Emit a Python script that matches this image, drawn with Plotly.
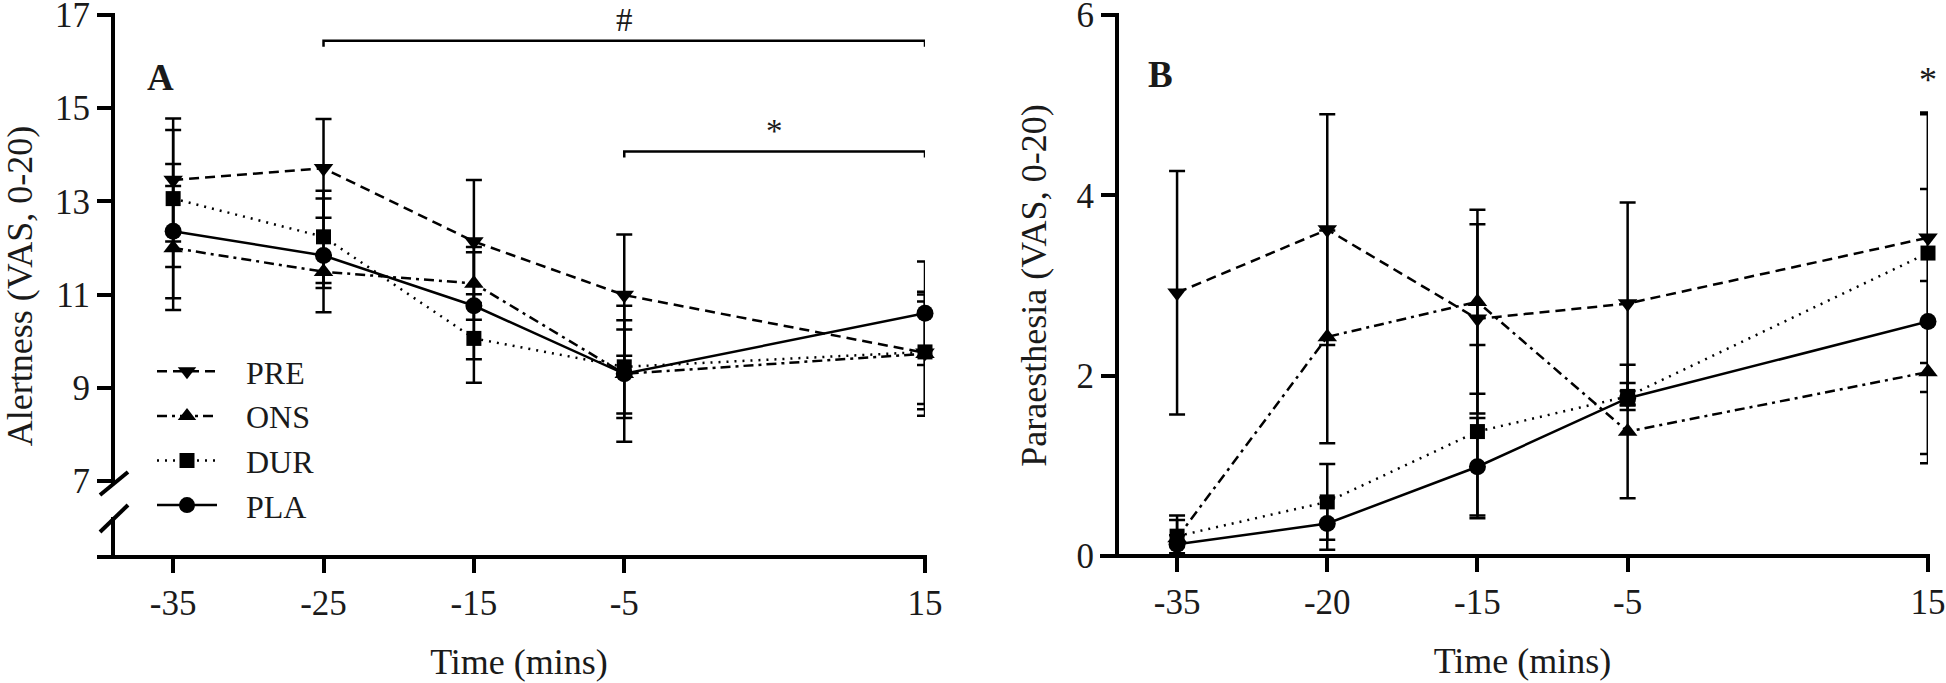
import plotly.graph_objects as go

# ---------------- data ----------------
series_names = ["PRE", "ONS", "DUR", "PLA"]

# Panel A: Alertness (VAS, 0-20)
time_A = [-35, -25, -15, -5, 15]
alert_PRE = [13.46, 13.71, 12.14, 10.99, 9.75]
alert_PRE_sd = [1.32, 1.06, 1.32, 1.30, 1.10]
alert_ONS = [12.00, 11.49, 11.24, 9.30, 9.73]
alert_ONS_sd = [1.33, 0.35, 0.78, 0.95, 1.33]
alert_DUR = [13.06, 12.24, 10.06, 9.45, 9.77]
alert_DUR_sd = [1.47, 0.99, 0.95, 1.00, 1.23]
alert_PLA = [12.36, 11.84, 10.76, 9.30, 10.60]
alert_PLA_sd = [1.44, 1.22, 1.15, 1.46, 1.11]

# Panel B: Paraesthesia (VAS, 0-20)
time_B_labels = ["-35", "-20", "-15", "-5", "15"]
time_B_slots = [-35, -25, -15, -5, 15]   # plotting slots of the time points
para_PRE = [2.92, 3.62, 2.63, 2.80, 3.53]
para_PRE_sd = [1.35, 1.28, 1.05, 1.12, 1.39]
para_ONS = [0.20, 2.43, 2.82, 1.38, 2.04]
para_ONS_sd = [0.20, 1.18, 1.02, 0.74, 1.01]
para_DUR = [0.22, 0.60, 1.38, 1.77, 3.36]
para_DUR_sd = [0.23, 0.42, 0.96, 0.15, 1.54]
para_PLA = [0.13, 0.36, 0.99, 1.75, 2.60]
para_PLA_sd = [0.10, 0.29, 0.54, 0.08, 1.47]

ticks_A_y = [7, 9, 11, 13, 15, 17]
ticks_B_y = [0, 2, 4, 6]

# significance brackets: (x start, x end, y level, label)
sig_A = [(-25, 15, 16.45, "#"), (-5, 15, 14.07, "*")]
sig_B = [(15, 5.28, "*")]

# ---------------- style ----------------
W, H = 1946, 683
FONT = "Liberation Serif"
TXT = "#1a1a1a"
symbols = {"PRE": "triangle-down", "ONS": "triangle-up", "DUR": "square", "PLA": "circle"}
msize = {"PRE": 17, "ONS": 17, "DUR": 15, "PLA": 17}
dashes = {"PRE": "10px,6px", "ONS": "10px,5px,3px,5px", "DUR": "2px,6px", "PLA": "solid"}
NBSP = "\u00a0\u00a0\u00a0"


def fx(px):
    return px / W


def fy(py):
    return 1 - py / H


fig = go.Figure()

A = {"PRE": (alert_PRE, alert_PRE_sd), "ONS": (alert_ONS, alert_ONS_sd),
     "DUR": (alert_DUR, alert_DUR_sd), "PLA": (alert_PLA, alert_PLA_sd)}
B = {"PRE": (para_PRE, para_PRE_sd), "ONS": (para_ONS, para_ONS_sd),
     "DUR": (para_DUR, para_DUR_sd), "PLA": (para_PLA, para_PLA_sd)}

for name in series_names:
    y, sd = A[name]
    fig.add_trace(go.Scatter(
        x=time_A, y=y, name=NBSP + name, mode="lines+markers", xaxis="x", yaxis="y",
        line=dict(color="black", width=2.5, dash=dashes[name]),
        marker=dict(symbol=symbols[name], size=msize[name], color="black"),
        error_y=dict(type="data", array=sd, visible=True, color="black", thickness=2.5, width=8),
        cliponaxis=False, showlegend=True))

for name in series_names:
    y, sd = B[name]
    fig.add_trace(go.Scatter(
        x=time_B_slots, y=y, name=name, mode="lines+markers", xaxis="x2", yaxis="y2",
        line=dict(color="black", width=2.5, dash=dashes[name]),
        marker=dict(symbol=symbols[name], size=msize[name], color="black"),
        error_y=dict(type="data", array=sd, visible=True, color="black", thickness=2.5, width=8),
        cliponaxis=False, showlegend=False))

axis_common = dict(showgrid=False, zeroline=False, showline=False, ticks="outside",
                   ticklen=15, tickwidth=4, tickcolor="black", ticklabeloverflow="allow",
                   automargin=False,
                   tickfont=dict(family=FONT, size=35, color=TXT))

fig.update_layout(
    width=W, height=H, margin=dict(l=0, r=0, t=0, b=0, autoexpand=False),
    paper_bgcolor="white", plot_bgcolor="white",
    font=dict(family=FONT, color=TXT),
    xaxis=dict(axis_common, domain=[fx(113), fx(925)], range=[-39, 15], anchor="y",
               tickvals=time_A, ticktext=[str(t) for t in time_A],
               title=dict(text="Time (mins)", font=dict(family=FONT, size=36, color=TXT), standoff=26)),
    yaxis=dict(axis_common, domain=[fy(557), fy(15)], range=[5.369, 17.0001], anchor="x",
               tickvals=ticks_A_y,
               title=dict(text="Alertness (VAS, 0-20)", font=dict(family=FONT, size=36, color=TXT), standoff=30)),
    xaxis2=dict(axis_common, domain=[fx(1117), fx(1928)], range=[-39, 15], anchor="y2",
                tickvals=time_B_slots, ticktext=time_B_labels,
                title=dict(text="Time (mins)", font=dict(family=FONT, size=36, color=TXT), standoff=26)),
    yaxis2=dict(axis_common, domain=[fy(556), fy(15)], range=[0, 6.0001], anchor="x2",
                tickvals=ticks_B_y,
                title=dict(text="Paraesthesia (VAS, 0-20)", font=dict(family=FONT, size=36, color=TXT), standoff=18)),
    legend=dict(x=fx(152), y=fy(344), xanchor="left", yanchor="top",
                font=dict(family=FONT, size=32, color=TXT), bgcolor="rgba(0,0,0,0)",
                itemwidth=60, tracegroupgap=0),
)

shapes = []
LW = 4
# Panel A axes (broken y axis)
shapes.append(dict(type="line", xref="paper", yref="paper", x0=fx(113), x1=fx(113), y0=fy(13), y1=fy(484), line=dict(color="black", width=LW)))
shapes.append(dict(type="line", xref="paper", yref="paper", x0=fx(113), x1=fx(113), y0=fy(517), y1=fy(557), line=dict(color="black", width=LW)))
shapes.append(dict(type="line", xref="paper", yref="paper", x0=fx(100), x1=fx(128), y0=fy(495), y1=fy(472), line=dict(color="black", width=LW)))
shapes.append(dict(type="line", xref="paper", yref="paper", x0=fx(100), x1=fx(128), y0=fy(532), y1=fy(505), line=dict(color="black", width=LW)))
shapes.append(dict(type="line", xref="paper", yref="paper", x0=fx(97), x1=fx(927), y0=fy(557), y1=fy(557), line=dict(color="black", width=LW)))
# Panel B axes
shapes.append(dict(type="line", xref="paper", yref="paper", x0=fx(1117), x1=fx(1117), y0=fy(13), y1=fy(556), line=dict(color="black", width=LW)))
shapes.append(dict(type="line", xref="paper", yref="paper", x0=fx(1100), x1=fx(1930), y0=fy(556), y1=fy(556), line=dict(color="black", width=LW)))

annotations = []
# significance brackets in panel A
for x0, x1, lvl, lab in sig_A:
    shapes.append(dict(type="path", xref="x", yref="y",
                       path=f"M {x0},{lvl - 0.13} L {x0},{lvl} L {x1},{lvl} L {x1},{lvl - 0.13}",
                       line=dict(color="black", width=2.5)))
    annotations.append(dict(x=(x0 + x1) / 2, y=lvl, xref="x", yref="y", text=lab, showarrow=False,
                            xanchor="center", yanchor="middle", yshift=21,
                            font=dict(family=FONT, size=33, color=TXT)))
for xs, lvl, lab in sig_B:
    annotations.append(dict(x=xs, y=lvl, xref="x2", yref="y2", text=lab, showarrow=False,
                            xanchor="center", yanchor="middle", font=dict(family=FONT, size=36, color=TXT)))

# panel letters
annotations.append(dict(x=fx(160), y=fy(77), xref="paper", yref="paper", text="<b>A</b>", showarrow=False,
                        xanchor="center", yanchor="middle", font=dict(family=FONT, size=37, color=TXT)))
annotations.append(dict(x=fx(1160), y=fy(74), xref="paper", yref="paper", text="<b>B</b>", showarrow=False,
                        xanchor="center", yanchor="middle", font=dict(family=FONT, size=37, color=TXT)))

fig.update_layout(shapes=shapes, annotations=annotations)
fig.write_html("out.html", config={"displayModeBar": False},
               post_script="document.body.style.margin='0';document.body.style.overflow='hidden';")
